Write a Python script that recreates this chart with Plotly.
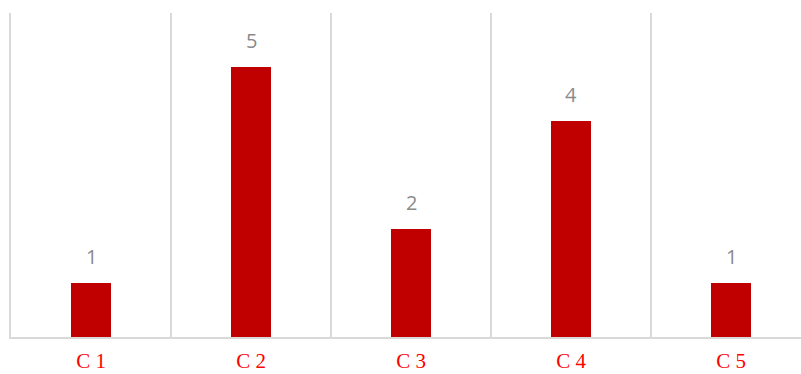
import plotly.graph_objects as go

categories = ["C1", "C2", "C3", "C4", "C5"]
values = [1, 5, 2, 4, 1]
tick_labels = ["C 1", "C 2", "C 3", "C 4", "C 5"]

bar_color = "#C00000"
grid_color = "#D9D9D9"

fig = go.Figure()
fig.add_trace(go.Bar(
    x=categories,
    y=values,
    width=0.25,
    marker=dict(color=bar_color, line=dict(width=0)),
    hoverinfo="skip",
))

# value labels above each bar
for c, v in zip(categories, values):
    fig.add_annotation(
        x=c, y=v, text=str(v), showarrow=False,
        yanchor="bottom", yshift=11,
        font=dict(family="Open Sans, Liberation Sans, sans-serif", size=20, color="#8A8A8A"),
    )

fig.update_layout(
    width=801, height=374,
    margin=dict(l=11, r=0, t=13, b=37, autoexpand=False),
    plot_bgcolor="white", paper_bgcolor="white",
    showlegend=False,
    bargap=0.75,
)
fig.update_xaxes(
    type="category",
    automargin=False,
    range=[-0.5, 4.4375],
    tickmode="array",
    tickvals=categories,
    ticktext=tick_labels,
    tickson="boundaries",
    showgrid=True, gridcolor=grid_color, gridwidth=2,
    showline=True, linecolor=grid_color, linewidth=2,
    ticks="",
    tickfont=dict(family="Liberation Serif, Times New Roman, serif", size=21, color="#FF0000"),
    ticklabelstandoff=4,
)
# left boundary line of the first category
fig.update_yaxes(
    automargin=False,
    range=[0, 6],
    showgrid=False, zeroline=False, showticklabels=False,
    showline=True, linecolor=grid_color, linewidth=2,
)

fig.write_html("out.html")
